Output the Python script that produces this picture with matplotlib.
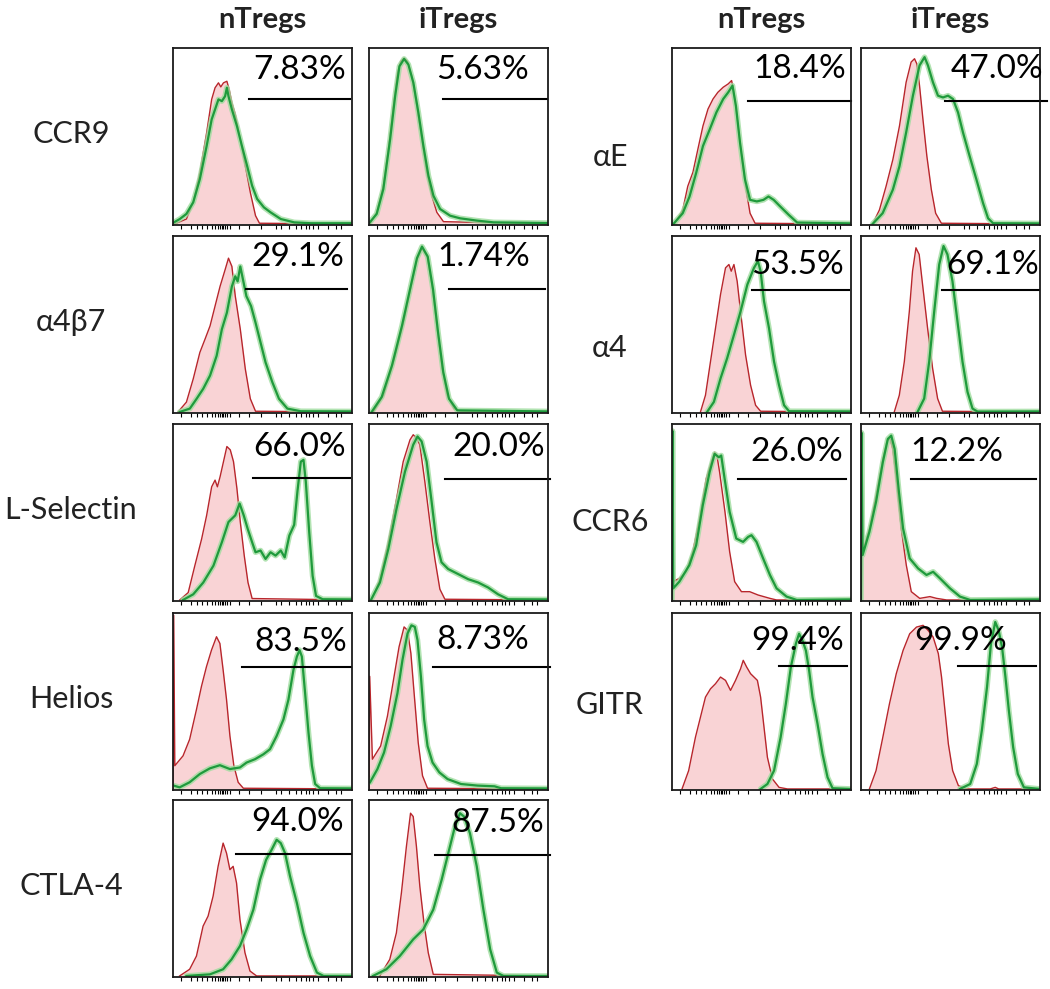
import numpy as np
import matplotlib.pyplot as plt

plt.rcParams['font.family'] = ['Lato', 'DejaVu Sans']

GROUPS = ["nTregs", "iTregs"]
LEFT_MARKERS = ["CCR9", "α4β7", "L-Selectin", "Helios", "CTLA-4"]
RIGHT_MARKERS = ["αE", "α4", "CCR6", "GITR"]

# % positive cells, [nTregs, iTregs]
LEFT_PCT = [["7.83%", "5.63%"], ["29.1%", "1.74%"], ["66.0%", "20.0%"],
            ["83.5%", "8.73%"], ["94.0%", "87.5%"]]
RIGHT_PCT = [["18.4%", "47.0%"], ["53.5%", "69.1%"], ["26.0%", "12.2%"],
             ["99.4%", "99.9%"]]

# gate start (channel, 0-100 scale), [nTregs, iTregs]
LEFT_GATE = [[42.3, 41.6], [41.0, 44.7], [44.7, 42.4], [38.3, 35.5], [35.1, 36.8]]
RIGHT_GATE = [[42.7, 46.7], [44.9, 45.5], [36.9, 28.1], [59.8, 54.4]]

# histograms: (channel, % of max)
# ctrl = red filled, stain = green line
CCR9_N_CTRL = [(0.9, 0), (7.5, 2.8), (11.3, 12.3), (15.0, 29.2), (18.8, 51.9), (21.6, 70.8),
               (23.5, 77.4), (25.4, 80.2), (26.7, 77.9), (28.2, 80.2), (30.1, 81.1), (31.4, 76.4),
               (32.9, 68.9), (34.8, 62.3), (37.6, 48.1), (40.4, 33.0), (43.2, 17.9), (46.1, 4.7),
               (48.3, 0.4), (100, 0)]
CCR9_N_STAIN = [(0, 0.6), (3.8, 2.8), (7.5, 5.7), (11.3, 12.3), (15.0, 25.5), (18.8, 44.3),
                (21.6, 59.4), (23.5, 65.1), (25.4, 70.8), (27.3, 69.8), (29.1, 72.6), (30.1, 77.4),
                (31.0, 72.6), (32.9, 65.1), (35.7, 55.7), (38.5, 44.3), (41.4, 33.0), (44.2, 21.7),
                (47.0, 14.2), (50.8, 9.4), (54.5, 6.6), (60.2, 2.8), (67.7, 0.9), (77.1, 0.4),
                (100, 0.4)]
CCR9_I_CTRL = [(0.6, 0), (4.3, 6.6), (8.0, 21.7), (10.8, 42.5), (13.6, 67.0), (15.9, 85.8),
               (17.7, 92.5), (19.6, 94.3), (21.5, 92.5), (23.9, 84.0), (26.7, 67.0), (29.5, 48.1),
               (32.3, 29.2), (35.1, 16.0), (37.9, 6.6), (41.6, 1.3), (100, 0)]
CCR9_I_STAIN = [(0.2, 0.6), (4.3, 5.7), (8.0, 19.8), (11.8, 48.1), (14.6, 72.6), (17.0, 89.6),
                (19.6, 93.8), (22.0, 90.6), (24.8, 80.2), (27.6, 63.2), (30.4, 44.3), (33.2, 27.4),
                (36.0, 16.0), (39.7, 8.5), (45.3, 4.7), (50.9, 3.2), (60.3, 1.9), (69.6, 0.9),
                (100, 0.5)]

A4B7_N_CTRL = [(2.8, 0), (7.5, 5.6), (11.3, 18.8), (15.0, 33.8), (17.9, 41.4), (20.7, 48.9),
               (23.5, 60.2), (26.3, 71.4), (29.1, 80.8), (31.0, 87.4), (32.9, 82.7), (34.8, 65.8),
               (37.6, 47.0), (40.4, 24.4), (43.2, 7.5), (46.1, 0.4), (100, 0)]
A4B7_N_STAIN = [(3.8, 0), (9.4, 1.9), (13.2, 7.5), (16.9, 13.2), (20.7, 20.7), (24.4, 32.0),
                (27.3, 47.0), (30.1, 56.4), (32.9, 71.4), (34.8, 77.1), (36.1, 74.2), (37.6, 82.7),
                (39.1, 75.2), (41.0, 65.8), (43.6, 60.2), (46.1, 50.8), (48.9, 39.5), (51.7, 28.2),
                (55.5, 16.9), (59.2, 7.5), (63.9, 1.9), (71.4, 0.4), (100, 0.3)]
A4B7_I_CTRL = [(2.4, 0), (8.1, 9.4), (13.7, 28.2), (19.3, 50.8), (24.0, 73.3), (26.8, 86.5),
               (29.6, 93.0), (32.5, 88.3), (35.3, 71.4), (38.1, 47.0), (40.9, 24.4), (43.7, 9.4),
               (47.5, 1.9), (51.2, 0.4), (100, 0)]
A4B7_I_STAIN = [(1.5, 0), (7.1, 8.5), (12.8, 26.3), (18.4, 48.9), (23.5, 72.4), (26.8, 87.4),
                (29.6, 94.0), (32.8, 88.3), (35.8, 69.5), (38.6, 45.1), (41.5, 22.6), (44.7, 7.5),
                (49.3, 0.9), (100, 0.3)]

LSEL_N_CTRL = [(3.8, 0), (8.5, 4.2), (12.2, 19.5), (16.0, 34.7), (18.8, 48.1), (21.6, 64.3),
               (23.5, 68.1), (24.8, 64.3), (26.3, 70.0), (28.2, 78.6), (30.1, 87.2), (32.0, 85.3),
               (33.8, 78.6), (35.7, 63.4), (37.6, 44.3), (39.8, 25.2), (41.9, 9.9), (44.2, 0.8),
               (100, 0)]
LSEL_N_STAIN = [(5.6, 0), (11.3, 3.2), (16.9, 9.9), (22.6, 19.5), (27.3, 32.8), (31.0, 44.3),
                (34.8, 48.1), (37.2, 54.8), (39.5, 48.1), (41.7, 40.5), (44.2, 32.8), (46.1, 27.1),
                (48.9, 28.1), (51.7, 23.3), (54.5, 27.1), (57.3, 25.2), (60.2, 28.1), (62.4, 24.2),
                (65.0, 36.6), (67.7, 42.7), (69.5, 61.5), (71.4, 78.6), (72.9, 79.6), (74.2, 67.2),
                (76.1, 38.5), (78.0, 13.7), (79.9, 2.3), (83.6, 0.4), (100, 0.3)]
LSEL_I_CTRL = [(1.5, 0), (6.1, 11.8), (10.8, 32.8), (15.4, 57.6), (19.1, 78.6), (22.9, 91.0),
               (24.7, 93.9), (26.6, 92.0), (28.4, 88.2), (31.2, 67.2), (34.0, 44.3), (36.8, 23.3),
               (39.6, 6.1), (42.4, 0.4), (100, 0)]
LSEL_I_STAIN = [(1.1, 0), (6.1, 9.9), (10.8, 29.0), (15.4, 51.9), (20.1, 72.9), (24.7, 88.2),
                (27.1, 92.9), (29.4, 90.1), (32.2, 78.6), (35.0, 55.7), (37.7, 32.8), (40.5, 21.4),
                (44.2, 17.6), (49.8, 14.7), (55.4, 11.8), (61.0, 9.9), (66.5, 7.1), (72.1, 3.2),
                (77.7, 0.4), (100, 0.3)]

HELIOS_N_CTRL = [(0, 0), (0.4, 98.7), (1.0, 13.2), (5.6, 18.8), (9.3, 28.2), (13.1, 45.1),
                 (15.9, 58.3), (18.7, 69.5), (21.5, 78.9), (24.3, 86.5), (26.2, 82.7), (28.0, 67.7),
                 (29.9, 50.8), (31.8, 30.1), (34.0, 13.2), (36.4, 3.8), (39.3, 0.4), (100, 0)]
HELIOS_N_STAIN = [(0.4, 1.9), (3.7, 0.9), (9.3, 3.8), (15.0, 8.5), (20.6, 11.7), (26.2, 13.5),
                  (31.8, 11.3), (37.4, 12.2), (41.1, 15.0), (45.8, 16.9), (50.5, 19.7), (54.2, 22.6),
                  (57.9, 30.1), (61.7, 39.5), (64.5, 50.8), (67.3, 67.7), (69.2, 75.2), (70.7, 78.9),
                  (72.0, 75.2), (73.8, 54.5), (75.7, 32.0), (77.6, 13.2), (79.4, 2.8), (82.2, 0.4),
                  (100, 0.3)]
HELIOS_I_CTRL = [(0, 0), (0.4, 64.0), (1.9, 16.9), (6.5, 24.4), (10.3, 41.4), (14.0, 63.9),
                 (16.8, 80.8), (19.6, 92.1), (21.5, 90.2), (23.4, 77.1), (25.2, 54.5), (27.5, 26.3),
                 (29.9, 7.5), (32.7, 0.4), (100, 0)]
HELIOS_I_STAIN = [(0.6, 3.8), (4.7, 11.3), (8.4, 20.7), (12.1, 35.7), (15.9, 54.5), (18.7, 73.3),
                  (21.5, 88.3), (23.7, 93.0), (25.6, 92.1), (27.1, 84.6), (29.0, 63.9), (30.8, 39.5),
                  (32.7, 24.4), (35.5, 15.0), (39.3, 9.4), (43.9, 5.6), (51.4, 2.8), (60.7, 1.9),
                  (70.1, 1.5), (73.8, 0.4), (100, 0.3)]

CTLA4_N_CTRL = [(3.7, 0), (9.3, 3.8), (13.1, 11.3), (16.8, 28.3), (19.6, 34.0), (22.4, 45.3),
                (25.2, 62.3), (28.0, 75.5), (29.9, 69.8), (31.8, 60.4), (33.6, 62.3), (35.5, 52.8),
                (37.4, 32.1), (40.2, 13.2), (43.0, 2.8), (46.7, 0), (100, 0)]
CTLA4_N_STAIN = [(7.5, 0), (20.6, 0.9), (28.0, 3.8), (32.7, 9.4), (37.4, 17.0), (41.1, 26.4),
                 (44.9, 37.7), (48.6, 54.7), (52.0, 66.0), (55.1, 71.7), (57.9, 77.4), (60.2, 75.5),
                 (62.6, 69.8), (65.4, 56.6), (69.2, 41.5), (72.9, 24.5), (76.6, 11.3), (80.4, 1.9),
                 (84.1, 0), (100, 0)]
CTLA4_I_CTRL = [(6.0, 0), (11.6, 9.4), (15.3, 24.5), (18.1, 47.2), (20.9, 73.6), (23.2, 92.5),
                (24.7, 90.6), (26.5, 73.6), (28.4, 50.9), (30.7, 30.2), (33.1, 13.2), (35.9, 0.9),
                (100, 0)]
CTLA4_I_STAIN = [(2.2, 0), (9.7, 3.8), (17.2, 11.3), (24.7, 20.8), (30.3, 26.4), (35.9, 37.7),
                 (40.6, 54.7), (44.3, 69.8), (48.0, 84.9), (50.8, 92.5), (53.1, 90.6), (56.4, 81.1),
                 (60.2, 62.3), (63.9, 37.7), (67.7, 15.1), (71.4, 1.9), (75.1, 0), (100, 0)]

AE_N_CTRL = [(1.3, 0), (6.0, 8.0), (8.8, 21.4), (11.7, 29.4), (14.5, 42.7), (17.3, 55.7),
             (20.1, 65.3), (22.9, 71.0), (25.6, 74.8), (28.6, 77.7), (31.4, 79.6), (33.3, 81.5),
             (34.6, 74.8), (36.5, 59.5), (38.9, 38.5), (41.4, 19.5), (43.6, 6.1), (46.4, 0.4),
             (100, 0)]
AE_N_STAIN = [(0.8, 0), (6.0, 6.1), (9.8, 15.6), (13.5, 29.0), (17.3, 44.3), (21.1, 53.8),
              (24.8, 63.4), (28.6, 71.0), (31.4, 74.8), (33.8, 78.6), (35.7, 67.2), (38.0, 46.2),
              (40.8, 25.2), (43.6, 13.7), (47.4, 12.8), (51.1, 13.7), (53.9, 15.6), (56.8, 13.7),
              (60.5, 9.9), (65.2, 5.2), (69.9, 0.8), (100, 0.3)]
AE_I_CTRL = [(6.5, 0), (10.3, 8.0), (14.0, 21.4), (17.8, 36.6), (21.5, 55.7), (25.2, 80.5),
             (28.0, 92.0), (29.9, 93.9), (31.2, 91.0), (32.7, 78.6), (34.6, 59.5), (36.8, 38.5),
             (39.3, 19.5), (41.7, 6.1), (44.9, 0.4), (100, 0)]
AE_I_STAIN = [(6.5, 0), (12.1, 6.1), (17.8, 19.5), (21.5, 32.8), (25.2, 51.9), (29.0, 72.9),
              (32.7, 90.1), (35.5, 94.8), (37.4, 90.1), (40.2, 80.5), (43.0, 72.9), (45.8, 71.9),
              (48.6, 72.9), (51.4, 71.0), (54.2, 63.4), (57.0, 51.9), (60.7, 38.5), (64.5, 25.2),
              (68.2, 11.8), (71.0, 3.2), (73.8, 0.4), (100, 0.3)]

A4_N_CTRL = [(15.9, 0), (18.7, 9.5), (21.5, 28.6), (24.3, 47.6), (27.1, 66.7), (29.9, 81.9),
             (31.8, 83.8), (33.1, 80.0), (34.6, 83.8), (36.4, 74.3), (38.3, 57.1), (41.1, 32.4),
             (43.9, 15.2), (46.7, 3.8), (49.5, 0.4), (100, 0)]
A4_N_STAIN = [(19.6, 0), (23.4, 5.7), (27.1, 19.0), (30.8, 30.5), (34.6, 43.8), (38.3, 57.1),
              (42.1, 72.4), (45.8, 81.9), (48.0, 85.7), (49.5, 80.0), (51.4, 62.9), (54.2, 47.6),
              (57.0, 28.6), (59.8, 15.2), (62.6, 3.8), (65.4, 0.4), (100, 0.3)]
A4_I_CTRL = [(18.6, 0), (21.4, 9.5), (24.2, 28.6), (27.0, 57.1), (28.8, 80.0), (30.7, 93.3),
             (32.5, 89.5), (34.4, 72.4), (37.2, 47.6), (40.0, 24.8), (42.8, 7.6), (45.5, 0.4),
             (100, 0)]
A4_I_STAIN = [(31.6, 0), (35.3, 7.6), (38.1, 28.6), (40.9, 57.1), (43.7, 83.8), (46.1, 94.3),
              (48.3, 89.5), (51.1, 74.3), (53.9, 51.4), (56.7, 28.6), (59.5, 11.4), (62.3, 1.9),
              (65.1, 0.2), (100, 0.3)]

CCR6_N_CTRL = [(0, 0), (0.3, 97.0), (0.7, 10.4), (4.1, 12.3), (7.9, 16.0), (11.6, 27.4),
               (15.4, 46.2), (19.1, 68.9), (21.9, 78.3), (23.8, 84.0), (25.1, 82.1), (26.6, 72.6),
               (29.6, 50.0), (32.2, 27.4), (35.0, 10.4), (38.8, 4.7), (43.4, 4.7), (48.1, 2.8),
               (54.7, 0.9), (58.4, 0), (100, 0)]
CCR6_N_STAIN = [(0, 0), (0.3, 96.0), (0.7, 6.6), (4.1, 10.4), (9.7, 19.8), (13.5, 31.1),
                (17.2, 53.8), (21.0, 72.6), (23.8, 83.0), (26.2, 81.1), (27.5, 82.1), (29.4, 68.9),
                (32.2, 50.0), (35.9, 34.9), (39.7, 33.0), (42.5, 35.8), (44.4, 36.8), (47.2, 33.0),
                (50.9, 23.6), (54.7, 14.2), (58.4, 6.6), (64.0, 1.9), (69.7, 0), (100, 0.3)]
CCR6_I_CTRL = [(0, 0), (0.3, 96.0), (0.9, 27.4), (4.7, 40.6), (8.4, 59.4), (12.2, 80.2),
               (14.6, 90.6), (16.3, 91.5), (17.8, 85.8), (20.1, 65.1), (22.5, 40.6), (25.3, 19.8),
               (28.1, 4.7), (32.8, 0.9), (38.5, 1.9), (42.2, 0.9), (47.8, 0), (100, 0)]
CCR6_I_STAIN = [(0, 0), (0.3, 95.0), (0.9, 25.5), (4.7, 38.7), (8.4, 55.7), (12.2, 78.3),
                (15.0, 91.5), (16.9, 93.4), (18.8, 85.8), (21.2, 61.3), (23.5, 40.6), (27.2, 23.6),
                (31.9, 17.9), (36.6, 14.2), (40.3, 16.0), (44.1, 12.3), (49.7, 6.6), (55.3, 1.9),
                (61.0, 0), (100, 0.3)]

GITR_N_CTRL = [(5.6, 0), (9.3, 10.4), (13.1, 29.4), (15.9, 40.8), (18.7, 52.2), (21.5, 56.9),
               (24.3, 59.8), (27.1, 63.6), (29.9, 61.7), (32.7, 56.0), (35.5, 61.7), (38.3, 68.3),
               (39.8, 73.1), (41.7, 69.3), (43.9, 65.5), (47.7, 61.7), (49.5, 52.2), (51.4, 35.1),
               (53.3, 18.0), (56.1, 5.7), (59.8, 0.9), (64.5, 0), (100, 0)]
GITR_N_STAIN = [(49.5, 0), (53.3, 2.8), (57.0, 10.4), (60.7, 29.4), (63.6, 48.4), (66.4, 69.3),
                (69.2, 82.5), (71.0, 88.2), (72.9, 84.4), (74.8, 78.7), (76.6, 67.4), (78.5, 52.2),
                (81.3, 37.0), (84.1, 19.9), (86.9, 6.6), (89.7, 0.4), (100, 0)]
GITR_I_CTRL = [(4.7, 0), (8.4, 10.4), (12.2, 29.4), (15.9, 48.4), (19.7, 65.5), (23.5, 78.7),
               (27.2, 88.2), (31.0, 92.0), (34.7, 93.0), (37.5, 90.1), (40.3, 86.3), (43.2, 76.9),
               (45.0, 63.6), (46.9, 44.6), (48.8, 25.6), (51.2, 10.4), (54.4, 1.9), (59.1, 0),
               (72.2, 0), (75.0, 0.9), (76.9, 0), (100, 0)]
GITR_I_STAIN = [(55.3, 0), (61.0, 2.8), (64.7, 14.2), (67.5, 33.2), (70.4, 57.9), (72.6, 82.5),
                (75.0, 94.9), (76.9, 90.1), (78.8, 80.6), (80.7, 63.6), (82.6, 44.6), (85.0, 23.7),
                (87.6, 8.5), (91.0, 0.9), (100, 0)]

LEFT_HISTS = [
    [(CCR9_N_CTRL, CCR9_N_STAIN), (CCR9_I_CTRL, CCR9_I_STAIN)],
    [(A4B7_N_CTRL, A4B7_N_STAIN), (A4B7_I_CTRL, A4B7_I_STAIN)],
    [(LSEL_N_CTRL, LSEL_N_STAIN), (LSEL_I_CTRL, LSEL_I_STAIN)],
    [(HELIOS_N_CTRL, HELIOS_N_STAIN), (HELIOS_I_CTRL, HELIOS_I_STAIN)],
    [(CTLA4_N_CTRL, CTLA4_N_STAIN), (CTLA4_I_CTRL, CTLA4_I_STAIN)],
]
RIGHT_HISTS = [
    [(AE_N_CTRL, AE_N_STAIN), (AE_I_CTRL, AE_I_STAIN)],
    [(A4_N_CTRL, A4_N_STAIN), (A4_I_CTRL, A4_I_STAIN)],
    [(CCR6_N_CTRL, CCR6_N_STAIN), (CCR6_I_CTRL, CCR6_I_STAIN)],
    [(GITR_N_CTRL, GITR_N_STAIN), (GITR_I_CTRL, GITR_I_STAIN)],
]

# layout (pixels of the 1050x989 figure)
W, H = 1050, 989
COL_X = [173, 369, 672, 861]
ROW_Y = [48, 236, 424, 613, 800]
PW, PH = 179, 177

# label placement inside panels: (text right x, text y, gate y, gate end x)
LEFT_TXT = [[(96.8, 87.7, 70.8, 98.7), (89.4, 87.7, 70.8, 99.4)],
            [(95.5, 88.3, 70.1, 97.4), (89.7, 88.0, 69.9, 98.1)],
            [(96.8, 87.2, 69.5, 98.7), (98.1, 87.2, 68.7, 100.9)],
            [(97.2, 83.6, 69.5, 99.4), (89.3, 84.6, 69.5, 101.3)],
            [(95.3, 87.7, 69.2, 99.4), (97.6, 86.8, 68.9, 101.3)]]
RIGHT_TXT = [[(97.2, 88.2, 70.0, 100.0), (101.9, 88.2, 70.0, 103.7)],
             [(96.3, 83.4, 69.5, 99.1), (99.4, 83.4, 69.5, 99.4)],
             [(95.5, 84.0, 68.9, 97.4), (79.7, 84.0, 68.5, 97.5)],
             [(95.9, 84.1, 69.6, 97.8), (81.6, 84.1, 69.6, 97.6)]]

# biexponential-looking tick marks
TICKS = [4.7, 10.3, 13.2, 16, 18.8, 21.6, 23.5, 25.4, 26.3, 27.3, 28.2, 29.2, 30.1, 32,
         36.7, 42.3, 48.9, 57.3, 60.2, 64.8, 68.6, 71.4, 74.2, 76.1, 78, 80.8, 86.5, 91.2, 94]

RED = '#b8262c'
PINK = '#f9d3d5'
GREEN = '#1f9a3c'
GREEN_HALO = '#9fdc9f'
INK = '#222222'


def add_panel(col, row, hists, pct, gate_x, txt):
    left = COL_X[col] / W
    bottom = 1 - (ROW_Y[row] + PH) / H
    ax = fig.add_axes([left, bottom, PW / W, PH / H])
    ctrl, stain = hists
    cx, cy = np.array(ctrl).T
    sx, sy = np.array(stain).T
    ax.fill_between(cx, cy, 0, color=PINK, lw=0)
    ax.plot(cx, cy, color=RED, lw=1.0)
    ax.plot(sx, sy, color=GREEN_HALO, lw=4.0, alpha=0.8, solid_capstyle='round')
    ax.plot(sx, sy, color=GREEN, lw=1.6)
    tx, ty, gy, gx1 = txt
    ax.plot([gate_x, gx1], [gy, gy], color='black', lw=1.5, clip_on=False)
    ax.text(tx, ty, pct, ha='right', va='center', fontsize=24, color='black')
    ax.set_xlim(0, 100)
    ax.set_ylim(-0.6, 100)
    ax.set_yticks([])
    ax.set_xticks(TICKS)
    ax.tick_params(axis='x', direction='out', length=3, width=0.8, labelbottom=False)
    for s in ax.spines.values():
        s.set_linewidth(1.3)
        s.set_color('#1a1a1a')
    return ax


fig = plt.figure(figsize=(W / 100, H / 100), dpi=100)

for r, marker in enumerate(LEFT_MARKERS):
    for c in range(2):
        add_panel(c, r, LEFT_HISTS[r][c], LEFT_PCT[r][c], LEFT_GATE[r][c], LEFT_TXT[r][c])
    fig.text(71 / W, 1 - (ROW_Y[r] + 86) / H, marker, ha='center', va='center',
             fontsize=22, color=INK)

for r, marker in enumerate(RIGHT_MARKERS):
    for c in range(2):
        add_panel(c + 2, r, RIGHT_HISTS[r][c], RIGHT_PCT[r][c], RIGHT_GATE[r][c], RIGHT_TXT[r][c])
    ry = [157, 348, 522, 705][r]
    fig.text(610 / W, 1 - ry / H, marker, ha='center', va='center', fontsize=22, color=INK)

for c in range(4):
    fig.text((COL_X[c] + PW / 2) / W, 1 - 20 / H, GROUPS[c % 2], ha='center', va='center',
             fontsize=21, fontweight='bold', color=INK)

fig.savefig('out.png', dpi=100)
